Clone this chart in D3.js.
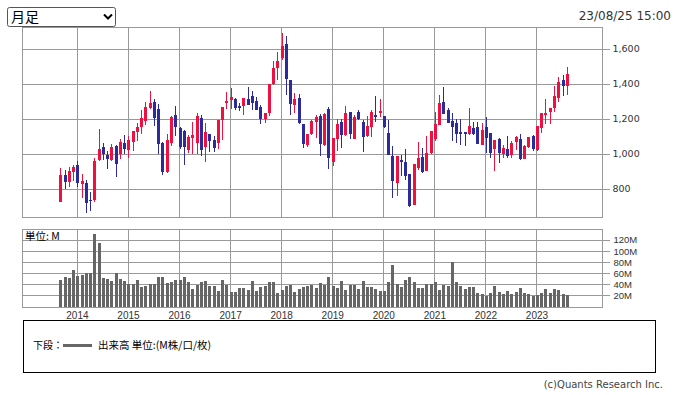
<!DOCTYPE html>
<html>
<head>
<meta charset="utf-8">
<script src="https://cdn.jsdelivr.net/npm/d3@7"></script>
<style>
  body { margin: 0; background: #fff; }
  svg { display: block; }
</style>
</head>
<body>
<div id="chart"></div>
<script>
'use strict';

// monthly bars, first one is Sep 2013
var firstYear = 2013;
var firstMonth = 8;
var yearLabels = ['2014', '2015', '2016', '2017', '2018', '2019', '2020', '2021', '2022', '2023'];
var priceTicks = [800, 1000, 1200, 1400, 1600];
var volumeTicks = [20, 40, 60, 80, 100, 120];

var opens = [728, 880, 842, 900, 937, 827, 832, 740, 737, 966,
  1040, 994, 966, 1046, 1000, 1063, 1023, 1069, 1126, 1154,
  1189, 1263, 1297, 1257, 1063, 899, 1063, 1223, 1148, 1131,
  1023, 1091, 1063, 1206, 1040, 1114, 1080, 1063, 1194, 1291,
  1308, 1314, 1274, 1274, 1314, 1331, 1303, 1269, 1200, 1234,
  1400, 1491, 1549, 1629, 1423, 1280, 1320, 1171, 1051, 1114,
  1183, 1217, 1051, 1257, 954, 1086, 1183, 1108, 1240, 1086,
  1240, 1183, 1103, 1154, 1223, 1234, 1217, 1120, 989, 834,
  966, 954, 886, 710, 920, 983, 903, 1006, 1086, 1166,
  1297, 1251, 1189, 1177, 1126, 1126, 1114, 1148, 1154, 1051,
  1154, 1120, 1028, 1086, 1000, 1028, 994, 1069, 1086, 971,
  1040, 1103, 1023, 1148, 1228, 1240, 1263, 1320, 1423, 1389];

var highs = [920, 910, 927, 937, 960, 886, 851, 781, 977, 1143,
  1063, 1017, 1057, 1051, 1086, 1108, 1103, 1133, 1175, 1251,
  1297, 1360, 1314, 1286, 1069, 1114, 1215, 1274, 1156, 1137,
  1110, 1183, 1234, 1223, 1177, 1116, 1103, 1197, 1271, 1354,
  1377, 1320, 1290, 1322, 1383, 1360, 1326, 1280, 1236, 1402,
  1531, 1583, 1691, 1674, 1425, 1349, 1343, 1173, 1117, 1194,
  1223, 1228, 1234, 1269, 1093, 1200, 1200, 1274, 1242, 1225,
  1250, 1194, 1217, 1251, 1331, 1314, 1219, 1194, 1046, 991,
  994, 1028, 888, 945, 1069, 1034, 1103, 1133, 1240, 1337,
  1383, 1263, 1234, 1200, 1200, 1128, 1263, 1183, 1183, 1177,
  1211, 1122, 1082, 1091, 1051, 1103, 1074, 1103, 1114, 1051,
  1099, 1108, 1162, 1236, 1314, 1265, 1389, 1440, 1451, 1497];

var lows = [725, 800, 812, 848, 812, 750, 665, 674, 727, 958,
  966, 914, 960, 870, 971, 1000, 977, 1017, 1074, 1114,
  1166, 1258, 1160, 1000, 882, 893, 1046, 1103, 1028, 937,
  1006, 1000, 1000, 989, 954, 1011, 1011, 1028, 1080, 1257,
  1257, 1251, 1245, 1223, 1278, 1251, 1249, 1171, 1177, 1217,
  1395, 1423, 1540, 1337, 1223, 1234, 1171, 1034, 1040, 1110,
  1091, 988, 1046, 914, 931, 1017, 1034, 1103, 1086, 1084,
  1195, 1011, 1097, 1097, 1183, 1211, 1148, 992, 750, 762,
  874, 851, 699, 708, 908, 891, 901, 1000, 1074, 1164,
  1226, 1175, 1074, 1063, 1051, 1046, 1108, 1108, 1055, 1049,
  1006, 977, 903, 948, 977, 977, 977, 1023, 966, 969,
  1034, 1017, 1017, 1120, 1171, 1171, 1240, 1297, 1331, 1337];

var closes = [880, 838, 903, 926, 836, 846, 722, 735, 960, 1028,
  1000, 972, 1040, 943, 1069, 1028, 1080, 1131, 1154, 1206,
  1269, 1291, 1206, 1057, 899, 1080, 1211, 1154, 1040, 1040,
  1097, 1108, 1217, 1023, 1126, 1074, 1034, 1194, 1269, 1303,
  1326, 1263, 1263, 1320, 1280, 1291, 1251, 1200, 1234, 1400,
  1491, 1531, 1617, 1429, 1286, 1314, 1177, 1057, 1114, 1189,
  1211, 1057, 1228, 977, 1091, 1171, 1108, 1234, 1114, 1209,
  1200, 1097, 1160, 1240, 1211, 1245, 1154, 994, 846, 989,
  954, 874, 705, 943, 977, 897, 1006, 1131, 1171, 1291,
  1228, 1177, 1154, 1114, 1114, 1114, 1160, 1114, 1057, 1137,
  1091, 1006, 1080, 1006, 1034, 989, 1063, 1097, 971, 1046,
  1097, 1028, 1160, 1234, 1234, 1263, 1331, 1411, 1389, 1457];

// 出来高 (M)
var volumes = [48.7, 54, 52, 66.5, 56, 57.6, 61, 61, 130.6, 114.5,
  52, 50.4, 47, 61, 50.4, 47, 41.5, 41.5, 48.7, 36,
  38, 41.5, 41.5, 54, 54, 43.3, 45, 48.7, 48.7, 54,
  45, 32.6, 39.8, 45, 47, 38, 38, 29, 48.7, 39.8,
  27.3, 27.3, 34.4, 34.4, 30.9, 47, 29, 36, 38, 45,
  45, 25.5, 30.9, 38, 39.8, 27.3, 32.6, 36, 38, 39.8,
  34.4, 43.3, 39.8, 54, 38, 34.4, 47, 30.9, 39.8, 39.8,
  32.6, 47, 36, 36, 32.6, 29, 29, 45, 75.4, 41.5,
  36, 48.7, 54, 45, 34.4, 34.4, 41.5, 41.5, 45, 30.9,
  39.8, 38, 80.7, 45, 38, 32.6, 36, 36, 25.5, 23.7,
  20.2, 25.5, 38, 27.3, 23.7, 29, 23.7, 27.3, 34.4, 25.5,
  23.7, 20.2, 22, 25.5, 32.6, 25.5, 32.6, 30.9, 23.7, 22];

var width = 677;
var height = 395;
var left = 22.5, right = 602.5;
var mainTop = 27, mainBottom = 217;
var volTop = 229, volBottom = 307;
var gridColor = '#999';
var upColor = '#f01040';
var downColor = '#2b2b9b';

var svg = d3.select('#chart').append('svg')
  .attr('width', width)
  .attr('height', height);

var x = d3.scaleLinear().domain([-8.9, 127.4]).range([left, right]);
var y = d3.scaleLinear().domain([640, 1726]).range([mainBottom, mainTop]);
var yVol = d3.scaleLinear().domain([0, 140]).range([volBottom, volTop]);

function yearIndex(label) {
  return (+label - firstYear) * 12 - firstMonth;
}

function crisp(v) {
  return Math.round(v - 0.5) + 0.5;
}

// period selector
svg.append('rect')
  .attr('x', 7.5).attr('y', 7.5)
  .attr('width', 108).attr('height', 19)
  .attr('rx', 2)
  .attr('fill', '#fff')
  .attr('stroke', '#555');
svg.append('text')
  .attr('x', 11).attr('y', 22)
  .style('font-family', 'Noto Sans CJK JP')
  .style('font-size', '14px')
  .text('月足');
svg.append('path')
  .attr('d', 'M104,14.5 L108,18.5 L112,14.5')
  .attr('fill', 'none')
  .attr('stroke', '#000')
  .attr('stroke-width', 2);

svg.append('text')
  .attr('x', 671).attr('y', 20)
  .attr('text-anchor', 'end')
  .style('font-family', 'DejaVu Sans')
  .style('font-size', '12px')
  .attr('fill', '#333')
  .text('23/08/25 15:00');

function drawFrame(top, bottom) {
  var g = svg.append('g')
    .attr('shape-rendering', 'crispEdges')
    .attr('stroke', gridColor)
    .attr('fill', 'none');
  g.append('rect')
    .attr('x', crisp(left)).attr('y', crisp(top))
    .attr('width', Math.round(right - left)).attr('height', Math.round(bottom - top));
  g.selectAll('line.v')
    .data(yearLabels)
    .enter()
    .append('line')
    .attr('x1', function(d) { return crisp(x(yearIndex(d))); })
    .attr('x2', function(d) { return crisp(x(yearIndex(d))); })
    .attr('y1', top)
    .attr('y2', bottom);
  return g;
}

// price panel
var mainGrid = drawFrame(mainTop, mainBottom);
mainGrid.selectAll('line.h')
  .data(priceTicks)
  .enter()
  .append('line')
  .attr('x1', left)
  .attr('x2', right + 7)
  .attr('y1', function(d) { return crisp(y(d)); })
  .attr('y2', function(d) { return crisp(y(d)); });

svg.append('g').selectAll('text')
  .data(priceTicks)
  .enter()
  .append('text')
  .attr('x', right + 10)
  .attr('y', function(d) { return y(d); })
  .attr('dy', '0.35em')
  .style('font-family', 'DejaVu Sans')
  .style('font-size', '9.5px')
  .attr('fill', '#333')
  .text(d3.format(','));

var candles = d3.range(opens.length).map(function(i) {
  return { i: i, o: opens[i], h: highs[i], l: lows[i], c: closes[i], v: volumes[i] };
});

var candle = svg.append('g').selectAll('g')
  .data(candles)
  .enter()
  .append('g')
  .attr('shape-rendering', 'crispEdges');

candle.append('line')
  .attr('x1', function(d) { return Math.round(x(d.i)) + 0.5; })
  .attr('x2', function(d) { return Math.round(x(d.i)) + 0.5; })
  .attr('y1', function(d) { return y(d.h); })
  .attr('y2', function(d) { return y(d.l); })
  .attr('stroke', function(d) { return d.c >= d.o ? upColor : downColor; });

candle.append('rect')
  .attr('x', function(d) { return Math.round(x(d.i)) - 1; })
  .attr('width', 3)
  .attr('y', function(d) { return y(Math.max(d.o, d.c)); })
  .attr('height', function(d) { return Math.max(1.5, Math.abs(y(d.o) - y(d.c))); })
  .attr('fill', function(d) { return d.c >= d.o ? upColor : downColor; });

// volume panel
var volGrid = drawFrame(volTop, volBottom);
volGrid.selectAll('line.h')
  .data(volumeTicks)
  .enter()
  .append('line')
  .attr('x1', left)
  .attr('x2', right + 7)
  .attr('y1', function(d) { return crisp(yVol(d)); })
  .attr('y2', function(d) { return crisp(yVol(d)); });

svg.append('g').selectAll('text')
  .data(volumeTicks)
  .enter()
  .append('text')
  .attr('x', right + 11)
  .attr('y', function(d) { return yVol(d); })
  .attr('dy', '0.35em')
  .style('font-family', 'Liberation Sans')
  .style('font-size', '9.5px')
  .attr('fill', '#333')
  .text(function(d) { return d + 'M'; });

svg.append('g').selectAll('rect')
  .data(candles)
  .enter()
  .append('rect')
  .attr('x', function(d) { return Math.round(x(d.i)) - 1; })
  .attr('width', 3)
  .attr('y', function(d) { return yVol(d.v); })
  .attr('height', function(d) { return volBottom - yVol(d.v); })
  .attr('fill', '#666')
  .attr('shape-rendering', 'crispEdges');

svg.append('text')
  .attr('x', 25).attr('y', 240)
  .style('font-family', 'Noto Sans CJK JP')
  .style('font-size', '10.5px')
  .text('単位: M');

svg.append('g').selectAll('text')
  .data(yearLabels)
  .enter()
  .append('text')
  .attr('x', function(d) { return x(yearIndex(d)); })
  .attr('y', 319)
  .attr('text-anchor', 'middle')
  .style('font-family', 'Liberation Sans')
  .style('font-size', '10px')
  .attr('fill', '#333')
  .text(function(d) { return d; });

// legend
svg.append('rect')
  .attr('x', 23.5).attr('y', 320.5)
  .attr('width', 632).attr('height', 52)
  .attr('fill', 'none')
  .attr('stroke', '#000')
  .attr('shape-rendering', 'crispEdges');
svg.append('text')
  .attr('x', 33).attr('y', 349)
  .style('font-family', 'Noto Sans CJK JP')
  .style('font-size', '10px')
  .text('下段：');
svg.append('line')
  .attr('x1', 63).attr('x2', 92)
  .attr('y1', 345.5).attr('y2', 345.5)
  .attr('stroke', '#666')
  .attr('stroke-width', 3);
svg.append('text')
  .attr('x', 98).attr('y', 349)
  .style('font-family', 'Noto Sans CJK JP')
  .style('font-size', '10.5px')
  .text('出来高 単位:(M株/口/枚)');

svg.append('text')
  .attr('x', 663).attr('y', 388)
  .attr('text-anchor', 'end')
  .style('font-family', 'DejaVu Sans')
  .style('font-size', '10px')
  .attr('fill', '#444')
  .text('(c)Quants Research Inc.');
</script>
</body>
</html>
